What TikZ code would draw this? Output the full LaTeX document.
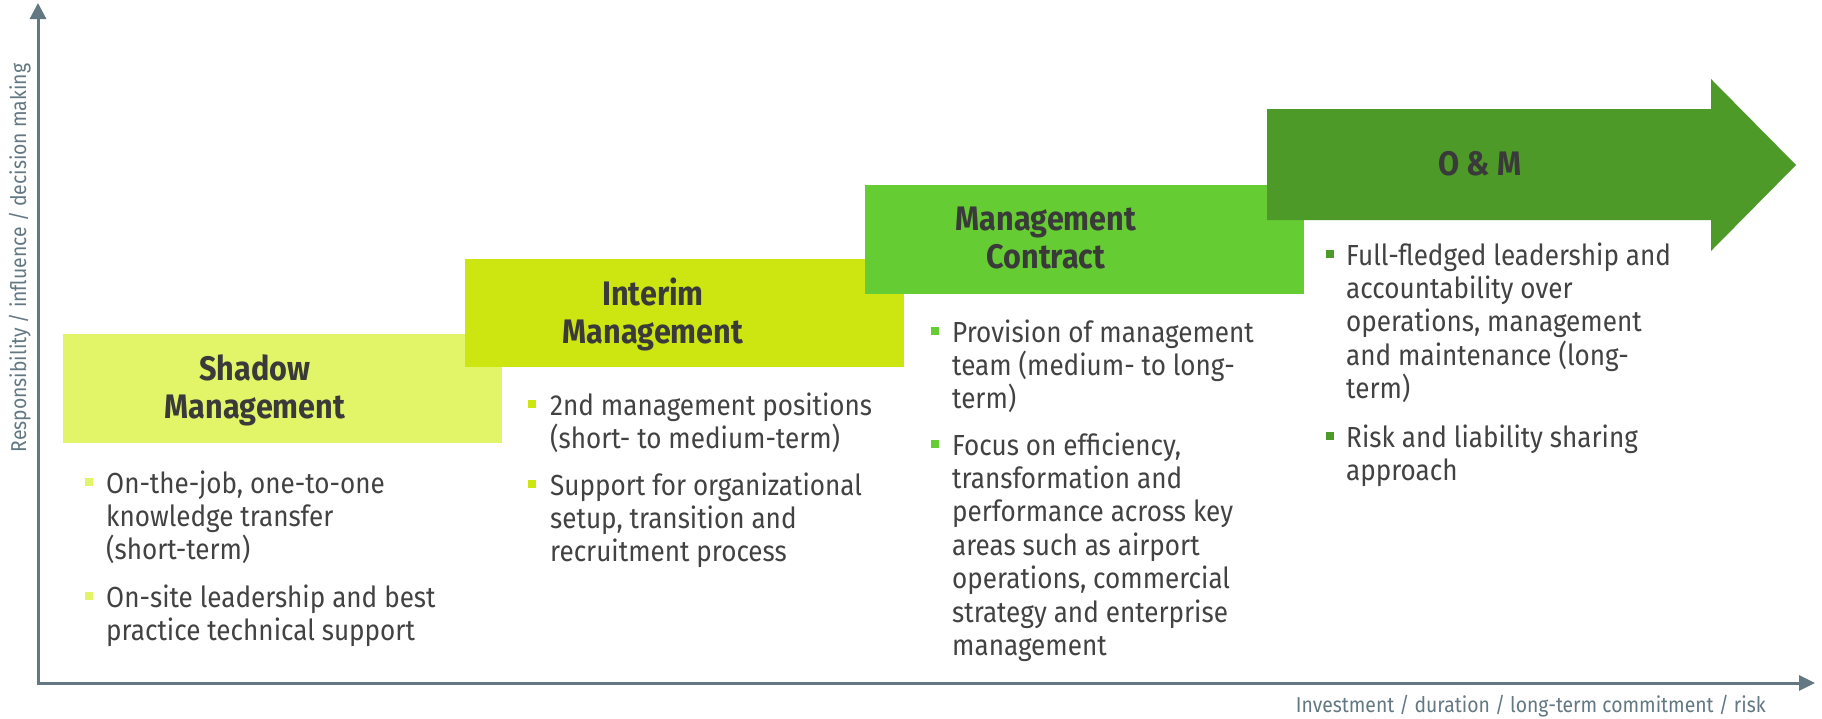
\documentclass[tikz,border=0pt]{standalone}
\usepackage{fontspec}
\setmainfont{Fira Sans}[FakeStretch=0.9]
\usetikzlibrary{arrows.meta}
\definecolor{cA}{RGB}{226,244,104}
\definecolor{cB}{RGB}{205,230,18}
\definecolor{cC}{RGB}{102,204,51}
\definecolor{cD}{RGB}{78,154,40}
\definecolor{txtc}{RGB}{66,66,66}
\definecolor{ttlc}{RGB}{58,58,58}
\definecolor{axc}{RGB}{99,120,131}
\newcommand\mlines[1]{\vtop{\baselineskip=33.4pt\lineskiplimit=-100pt\lineskip=0pt\halign{##\hfil\cr#1\crcr}}}
\newcommand\tlines[1]{\vtop{\baselineskip=38pt\lineskiplimit=-100pt\lineskip=0pt\halign{\hfil##\hfil\cr#1\crcr}}}
\begin{document}
\begin{tikzpicture}[x=1pt,y=-1pt,
  box/.style={rectangle, inner sep=0pt, outer sep=0pt, anchor=north west, minimum width=439pt},
  ttl/.style={inner sep=0pt, anchor=base, text=ttlc, font=\fontsize{34}{38}\selectfont\bfseries},
  itm/.style={inner sep=0pt, anchor=base west, text=txtc, font=\fontsize{29}{33.4}\selectfont},
  bul/.style={rectangle, inner sep=0pt, minimum size=8pt},
  axis/.style={draw=axc, line width=3pt},
  axl/.style={inner sep=0pt, text=axc, font=\fontsize{21.5}{24}\selectfont}]
\path[use as bounding box, fill=white] (0,0) rectangle (1822,718);

% boxes
\node[box, fill=cA, minimum height=109pt] (b1) at (63,334) {};
\node[box, fill=cB, minimum height=108pt] (b2) at (465,259) {};
\node[box, fill=cC, minimum height=109pt] (b3) at (865,185) {};
\fill[cD] (1267,109) -- (1711,109) -- (1711,79) -- (1796,165) -- (1711,251) -- (1711,220) -- (1267,220) -- cycle;

% titles
\node[ttl] (t1) at (255,380) {\tlines{Shadow\cr Management}};
\node[ttl] (t2) at (653,305) {\tlines{Interim\cr Management}};
\node[ttl] (t3) at (1046,230) {\tlines{Management\cr Contract}};
\node[ttl] (t4) at (1480,175) {O \& M};

% box 1 items
\node[bul, fill=cA] (q1a) at (89,482) {};
\node[itm] (i1a) at (106,493) {\mlines{On-the-job, one-to-one\cr knowledge transfer\cr (short-term)}};
\node[bul, fill=cA] (q1b) at (89,596) {};
\node[itm] (i1b) at (106,607) {\mlines{On-site leadership and best\cr practice technical support}};

% box 2 items
\node[bul, fill=cB] (q2a) at (532,404) {};
\node[itm] (i2a) at (550,415) {\mlines{2nd management positions\cr (short- to medium-term)}};
\node[bul, fill=cB] (q2b) at (532,484) {};
\node[itm] (i2b) at (550,495) {\mlines{Support for organizational\cr setup, transition and\cr recruitment process}};

% box 3 items
\node[bul, fill=cC] (q3a) at (935,331) {};
\node[itm] (i3a) at (952,342) {\mlines{Provision of management\cr team (medium- to long-\cr term)}};
\node[bul, fill=cC] (q3b) at (935,444) {};
\node[itm] (i3b) at (952,455) {\mlines{Focus on efficiency,\cr transformation and\cr performance across key\cr areas such as airport\cr operations, commercial\cr strategy and enterprise\cr management}};

% box 4 items
\node[bul, fill=cD] (q4a) at (1330,254) {};
\node[itm] (i4a) at (1346,265) {\mlines{Full-fledged leadership and\cr accountability over\cr operations, management\cr and maintenance (long-\cr term)}};
\node[bul, fill=cD] (q4b) at (1330,436) {};
\node[itm] (i4b) at (1346,447) {\mlines{Risk and liability sharing\cr approach}};

% axes
\coordinate (O) at (38,683);
\coordinate (Ytip) at (38,3);
\coordinate (Xtip) at (1815,683);
\draw[axis, {Triangle[length=16pt,width=16pt]}-{Triangle[length=16pt,width=15pt]}] (Ytip) -- (O) -- (Xtip);
\node[axl, anchor=base, rotate=90] (ylab) at (26,258) {Responsibility / influence / decision making};
\node[axl, anchor=base east] (xlab) at (1766,712) {Investment / duration / long-term commitment / risk};
\end{tikzpicture}
\end{document}
